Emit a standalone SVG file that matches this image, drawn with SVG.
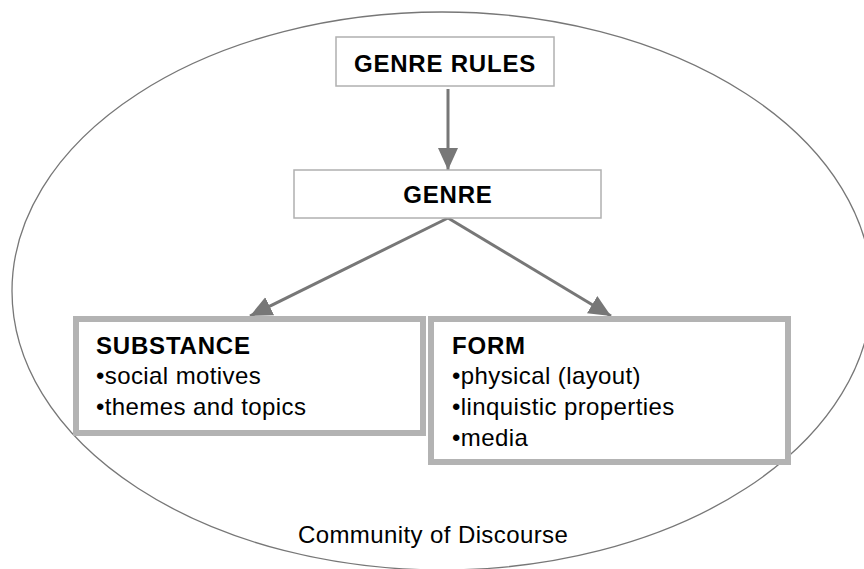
<svg xmlns="http://www.w3.org/2000/svg" width="864" height="569" viewBox="0 0 864 569">
<style>
.t{font-family:"Liberation Sans",Arial,sans-serif;font-size:24px;fill:#000}
.b{font-weight:bold;letter-spacing:0.8px}
.r{letter-spacing:0.4px}
.thin{fill:#fff;stroke:#b0b0b0;stroke-width:1.5}
.thick{fill:#fff;stroke:#b3b3b3;stroke-width:6}
.conn{stroke:#777;stroke-width:3;fill:none}
</style>
<defs>
<marker id="ah" markerUnits="userSpaceOnUse" markerWidth="24" markerHeight="22" refX="22" refY="10" orient="auto">
<path d="M0,0 L22,10 L0,20 Z" fill="#777"/>
</marker>
</defs>
<rect width="864" height="569" fill="#fff"/>
<g id="community">
<ellipse cx="442" cy="291" rx="430" ry="279" fill="none" stroke="#777" stroke-width="1.3"/>
<text class="t r" x="298" y="543">Community of Discourse</text>
</g>
<g id="connectors">
<line class="conn" x1="448" y1="89" x2="448" y2="170" marker-end="url(#ah)"/>
<line class="conn" x1="448" y1="218" x2="250" y2="316" marker-end="url(#ah)"/>
<line class="conn" x1="448" y1="218" x2="611" y2="316" marker-end="url(#ah)"/>
</g>
<g id="genre-rules">
<rect class="thin" x="336" y="37" width="218" height="49"/>
<text class="t b" x="445" y="72" text-anchor="middle">GENRE RULES</text>
</g>
<g id="genre">
<rect class="thin" x="294" y="170" width="307" height="48"/>
<text class="t b" x="448" y="203" text-anchor="middle">GENRE</text>
</g>
<g id="substance">
<rect class="thick" x="76" y="319" width="347" height="114"/>
<text class="t b" x="96" y="354">SUBSTANCE</text>
<text class="t r" x="96" y="384">•social motives</text>
<text class="t r" x="96" y="415">•themes and topics</text>
</g>
<g id="form">
<rect class="thick" x="431" y="319" width="357" height="143"/>
<text class="t b" x="452" y="354">FORM</text>
<text class="t r" x="452" y="384">•physical (layout)</text>
<text class="t r" x="452" y="415">•linquistic properties</text>
<text class="t r" x="452" y="446">•media</text>
</g>
</svg>
